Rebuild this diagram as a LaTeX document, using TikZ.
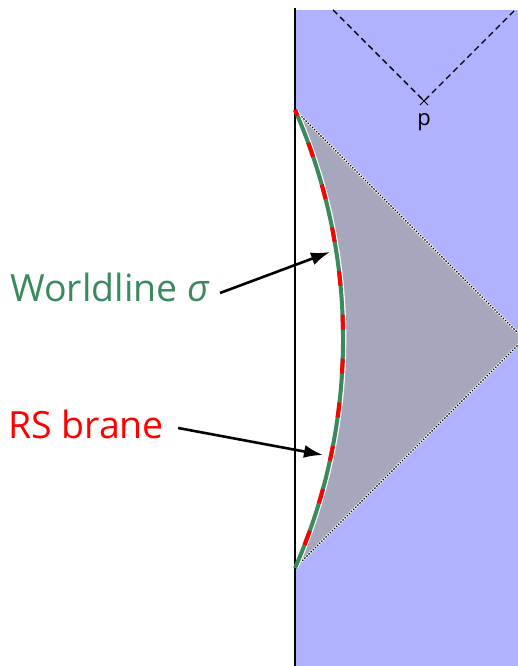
\documentclass[tikz,border=0pt]{standalone}
\usepackage{fontspec}
\setmainfont{Open Sans}
\usetikzlibrary{arrows.meta,positioning}
\definecolor{BulkBlue}{RGB}{176,178,255}
\definecolor{WedgeGray}{RGB}{166,167,188}
\definecolor{LineGreen}{RGB}{58,138,94}
\definecolor{BraneRed}{RGB}{255,0,0}

\begin{document}
\begin{tikzpicture}[
    x=1pt, y=1pt,
    label text/.style={font=\fontsize{37.5}{42}\selectfont, inner sep=0pt},
    pointer/.style={line width=2.6pt, -{Latex[length=19pt,width=13pt]}},
    light cone/.style={dash pattern=on 6pt off 4pt, line width=1.4pt},
    wedge edge/.style={line width=1.2pt, dash pattern=on 1.5pt off 1.5pt}
  ]
  \useasboundingbox (0,0) rectangle (518,666);

  \coordinate (brane bottom) at (295,98);
  \coordinate (brane top) at (295,556);
  \coordinate (apex) at (524,327);
  \coordinate (p) at (424,565);

  % bulk and wedge
  \fill[BulkBlue] (296,0) rectangle (518,656);
  \begin{scope}
    \clip (296,0) rectangle (518,656);
    \fill[WedgeGray] (brane bottom) arc[start angle=-23.69, end angle=23.69, radius=570]
      -- (apex) -- cycle;
    \fill[white] (brane bottom) arc[start angle=-23.69, end angle=23.69, radius=570] -- cycle;
    \draw[white, line width=2.2pt] (brane top) -- (apex) -- (brane bottom);
    \draw[wedge edge] (brane top) -- (apex) -- (brane bottom);
    % light cone of p
    \draw[light cone] (333,656) -- (p) -- (515,656);
  \end{scope}

  % boundary
  \draw[line width=1.6pt] (295,0) -- (295,658);

  % the brane
  \draw[white, line width=1.4pt] ([xshift=2.6pt]brane bottom) arc[start angle=-23.69, end angle=23.69, radius=570];
  \draw[LineGreen, line width=4pt] (brane bottom) arc[start angle=-23.69, end angle=23.69, radius=570];
  \draw[BraneRed, line width=4pt, dash pattern=on 15pt off 29pt, dash phase=19pt]
    (brane bottom) arc[start angle=-23.69, end angle=23.69, radius=570];

  % point p
  \draw[line width=0.9pt] ([shift={(-4pt,-4pt)}]p) -- ([shift={(4pt,4pt)}]p)
    ([shift={(-4pt,4pt)}]p) -- ([shift={(4pt,-4pt)}]p);
  \node[font=\fontsize{22}{26}\selectfont, below=12pt of p, inner sep=0pt] (plabel) {p};

  % labels
  \node[label text, text=LineGreen] (worldline) at (110,379) {Worldline \textit{σ}};
  \node[label text, text=BraneRed] (rsbrane) at (86,242) {RS brane};
  \coordinate (worldline tip) at (330,414);
  \coordinate (rsbrane tip) at (323,211);
  \draw[pointer] ([shift={(10pt,-6pt)}]worldline.east) -- (worldline tip);
  \draw[pointer] ([shift={(14pt,-4pt)}]rsbrane.east) -- (rsbrane tip);
\end{tikzpicture}
\end{document}
